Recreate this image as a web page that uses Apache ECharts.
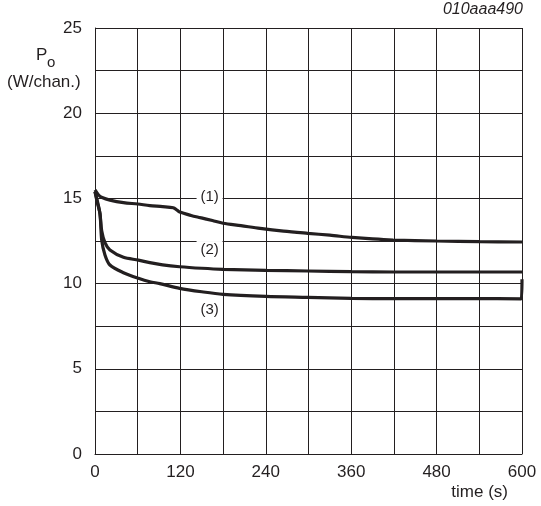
<!DOCTYPE html>
<html>
<head>
<meta charset="utf-8">
<script src="https://cdn.jsdelivr.net/npm/echarts@6/dist/echarts.min.js"></script>
<style>
html,body{margin:0;padding:0;background:#fff;}
#chart{width:541px;height:506px;}
</style>
</head>
<body>
<div id="chart"></div>
<script>
// Data
const curve1 = [[0,15.5],[5,15.2],[10,15.05],[21,14.9],[40,14.75],[60,14.67],[77,14.58],[95,14.52],[110,14.45],[115,14.32],[119,14.2],[135,14.0],[148,13.87],[165,13.7],[180,13.54],[205,13.4],[232,13.24],[265,13.08],[299,12.95],[330,12.84],[361,12.71],[390,12.62],[419,12.56],[480,12.5],[541,12.46],[600,12.44]];
const curve2 = [[0,15.4],[3,14.9],[7,14.1],[9.4,13.1],[14,12.4],[21,11.97],[40,11.54],[61,11.38],[77,11.23],[95,11.1],[119,10.99],[150,10.9],[180,10.84],[240,10.78],[299,10.74],[360,10.7],[420,10.68],[480,10.68],[540,10.68],[600,10.68]];
const curve3 = [[0,15.4],[3,14.8],[7,14.1],[9.4,12.56],[14,11.68],[21,11.09],[40,10.64],[61,10.31],[77,10.11],[91,10.0],[119,9.72],[150,9.52],[180,9.37],[240,9.25],[299,9.19],[360,9.13],[420,9.12],[480,9.12],[540,9.12],[599,9.1],[600,10.25]];
const curveLabels = ['(1)','(2)','(3)'];
const labelCoords = [[161,15.08],[161,11.97],[161,8.45]];
const xTicks = [0,120,240,360,480,600];
const yTicks = [0,5,10,15,20,25];

const chart = echarts.init(document.getElementById('chart'), null, {renderer:'canvas'});
const FONT = 'Liberation Sans, Arial, sans-serif';
const lineColor = '#231f20';
function mkSeries(data, idx){
  return {
    type:'line', data:data, showSymbol:false, smooth:0.3,
    lineStyle:{color:lineColor, width:3.2},
    z:3,
    markPoint:{
      symbol:'rect', symbolSize:[26,18],
      itemStyle:{color:'#fff'},
      label:{show:true, formatter:curveLabels[idx], color:'#231f20', fontSize:15, fontFamily:FONT},
      data:[{coord:labelCoords[idx]}]
    }
  };
}
chart.setOption({
  animation:false,
  backgroundColor:'#fff',
  grid:{left:95, right:19, top:28, bottom:52},
  xAxis:{
    type:'value', min:0, max:600, interval:60,
    axisLine:{show:true, lineStyle:{color:'#231f20', width:1}},
    axisTick:{show:false},
    splitLine:{show:true, lineStyle:{color:'#231f20', width:1}},
    axisLabel:{color:'#231f20', fontSize:17, fontFamily:FONT, margin:10,
      formatter:v => xTicks.indexOf(v) >= 0 ? String(v) : ''}
  },
  yAxis:{
    type:'value', min:0, max:25, interval:2.5,
    axisLine:{show:true, lineStyle:{color:'#231f20', width:1}},
    axisTick:{show:false},
    splitLine:{show:true, lineStyle:{color:'#231f20', width:1}},
    axisLabel:{color:'#231f20', fontSize:17, fontFamily:FONT, margin:13,
      formatter:v => yTicks.indexOf(v) >= 0 ? String(v) : ''}
  },
  graphic:[
    {type:'text', right:18, top:2, style:{text:'010aaa490', font:'italic 16px Liberation Sans, Arial, sans-serif', fill:'#231f20'}},
    {type:'text', x:36, y:47, style:{text:'P', font:'17px Liberation Sans, Arial, sans-serif', fill:'#231f20'}},
    {type:'text', x:47, y:55, style:{text:'o', font:'15px Liberation Sans, Arial, sans-serif', fill:'#231f20'}},
    {type:'text', x:7, y:74, style:{text:'(W/chan.)', font:'17px Liberation Sans, Arial, sans-serif', fill:'#231f20'}},
    {type:'text', right:33, y:484, style:{text:'time (s)', font:'17px Liberation Sans, Arial, sans-serif', fill:'#231f20'}}
  ],
  series:[mkSeries(curve1,0), mkSeries(curve2,1), mkSeries(curve3,2)]
});
</script>
</body>
</html>
